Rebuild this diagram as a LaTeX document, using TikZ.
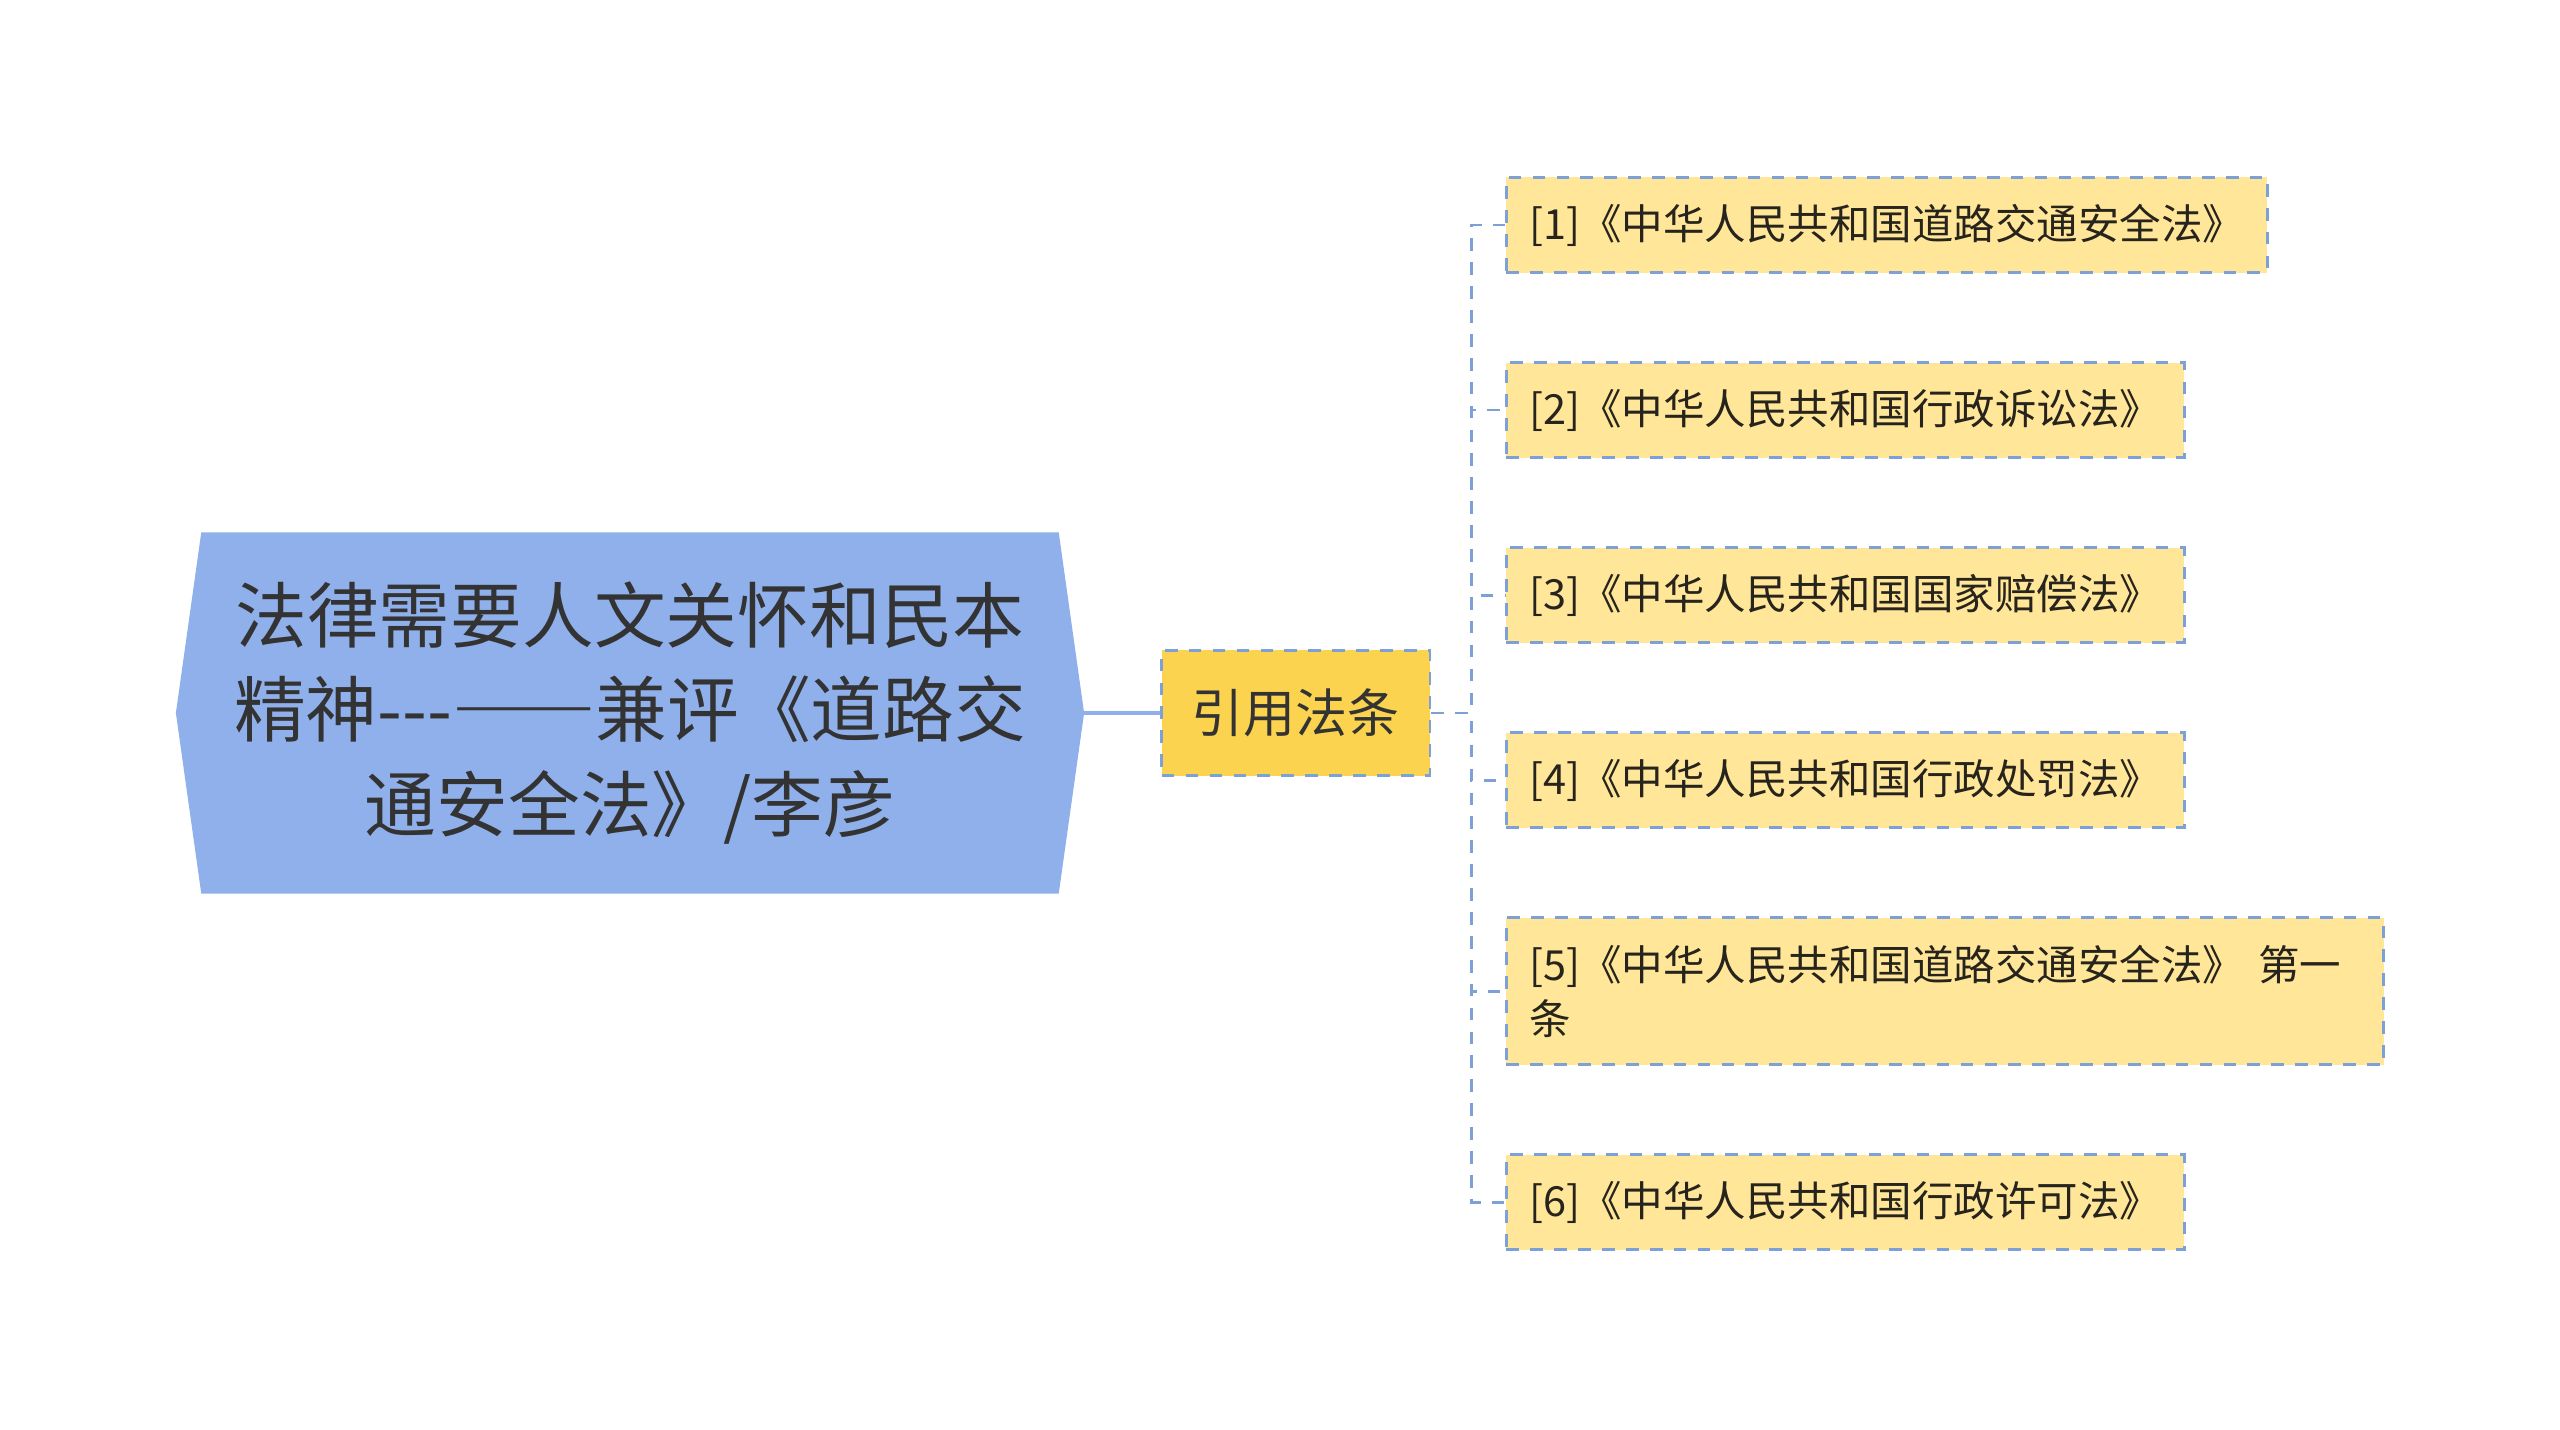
\documentclass[tikz,border=0pt]{standalone}
\usepackage{fontspec}
\newfontfamily\cjkfont{Noto Sans CJK SC}
\newfontfamily\cjkfull{Noto Sans CJK SC}[CharacterWidth=Full]
\usetikzlibrary{positioning,shapes.symbols}
\definecolor{rootblue}{RGB}{143,176,234}
\definecolor{lawgold}{RGB}{252,211,78}
\definecolor{leafyellow}{RGB}{255,230,153}
\definecolor{linkblue}{RGB}{125,160,215}
\definecolor{textgray}{RGB}{51,51,51}
\definecolor{leaftext}{RGB}{38,36,28}
\begin{document}
\begin{tikzpicture}[
			x=0.025cm, y=-0.025cm,
			node distance=2.18cm,
			topic/.style={signal, signal to=west and east, signal pointer angle=164, fill=rootblue, text=textgray, minimum width=22.7cm, minimum height=9.03cm, inner sep=0pt, text width=20.6cm, align=center, font=\cjkfont\fontsize{51}{67}\selectfont},
			law/.style={rectangle, draw=linkblue, line width=2pt, dash pattern=on 9pt off 8pt, fill=lawgold, text=textgray, minimum width=6.7cm, minimum height=3.125cm, font=\cjkfont\fontsize{37}{44}\selectfont},
			leaf/.style={rectangle, draw=linkblue, line width=2pt, dash pattern=on 9pt off 8pt, fill=leafyellow, text=leaftext, inner xsep=0.575cm, inner ysep=0.3cm, minimum height=2.375cm, align=left, font=\cjkfont\fontsize{29.5}{38}\selectfont},
			link/.style={draw=linkblue, line width=2pt, dash pattern=on 9pt off 8pt},
			trunk/.style={draw=rootblue, line width=2.8pt}
			]
			\useasboundingbox (0,0) rectangle (2560,1429);
			
			\node[topic] (root) at (630,713) {法律需要人文关怀和民本\\精神---{\cjkfull ——}兼评《道路交\\通安全法》/李彦};
			\node[law] (cite) [right=1.9cm of root] {引用法条};
			\coordinate [right=1cm of cite.east] (fork);
			
			\node[leaf, anchor=west] (l1) at (1505,225) {[1]《中华人民共和国道路交通安全法》};
			\node[leaf] (l2) [below=of l1.south west, anchor=north west] {[2]《中华人民共和国行政诉讼法》};
			\node[leaf] (l3) [below=of l2.south west, anchor=north west] {[3]《中华人民共和国国家赔偿法》};
			\node[leaf] (l4) [below=of l3.south west, anchor=north west] {[4]《中华人民共和国行政处罚法》};
			\node[leaf] (l5) [below=of l4.south west, anchor=north west, text width=20.78cm, minimum height=3.675cm] {[5]《中华人民共和国道路交通安全法》 第一\\条};
			\node[leaf] (l6) [below=of l5.south west, anchor=north west] {[6]《中华人民共和国行政许可法》};
			
			\draw[trunk] (root.east) -- (cite.west);
			\foreach \i in {1,...,6}
				\draw[link] (cite.east) -- (fork) |- (l\i.west);
		\end{tikzpicture}
\end{document}
